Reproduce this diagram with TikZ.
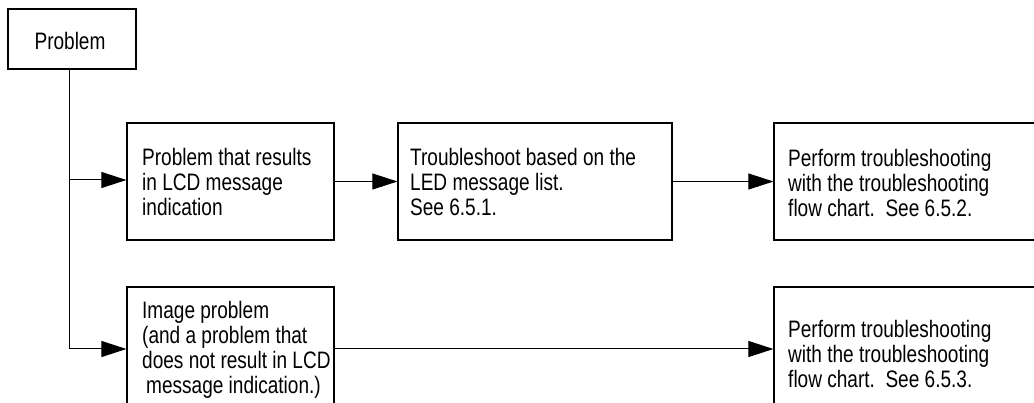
\documentclass[tikz,border=0pt]{standalone}
\usepackage{fontspec}
\setmainfont{Liberation Sans}[FakeStretch=0.8]
\usetikzlibrary{arrows.meta}
\begin{document}
\begin{tikzpicture}[x=1pt,y=-1pt,
  box/.style={draw,line width=1.2pt,rectangle,inner sep=0pt},
  txt/.style={inner sep=0pt,anchor=west,align=left,
    font=\fontsize{23.8}{25}\selectfont},
  arr/.style={line width=1pt,-{Triangle[length=25pt,width=16pt]}},
  conn/.style={line width=1pt}]
\useasboundingbox (0,0) rectangle (1034,403);
\clip (0,0) rectangle (1034,403);
% boxes
\node[box,minimum width=128pt,minimum height=60pt] (prob) at (72,39) {};
\node[box,minimum width=207pt,minimum height=117pt] (b1) at (230.5,181.5) {};
\node[box,minimum width=274pt,minimum height=117pt] (b2) at (535,181.5) {};
\node[box,minimum width=300pt,minimum height=117pt] (b3) at (924,181.5) {};
\node[box,minimum width=207pt,minimum height=124pt] (b4) at (230.5,349) {};
\node[box,minimum width=300pt,minimum height=134pt] (b5) at (924,354) {};
% texts
\node[txt,anchor=center] (tp) at (70,41) {Problem};
\node[txt] (t1) at (142,182) {Problem that results\\in LCD message\\indication};
\node[txt] (t2) at (410,182) {Troubleshoot based on the\\LED message list.\\See 6.5.1.};
\node[txt] (t3) at (788,183) {Perform troubleshooting\\with the troubleshooting\\flow chart.\ \ See 6.5.2.};
\node[txt] (t4) at (142,349.5) {Image problem\\(and a problem that\\does not result in LCD\\\hspace*{4pt}message indication.)};
\node[txt] (t5) at (788,354) {Perform troubleshooting\\with the troubleshooting\\flow chart.\ \ See 6.5.3.};
% connectors
\coordinate (j1) at (69,180);
\coordinate (j2) at (69,349);
\draw[conn] (prob.south -| j1) -- (j2);
\draw[arr] (j1) -- (j1 -| b1.west);
\draw[arr] (j2) -- (j2 -| b4.west);
\draw[arr] (b1.east) -- (b2.west);
\draw[arr] (b2.east) -- (b3.west);
\draw[arr] (j2 -| b4.east) -- (j2 -| b5.west);
\end{tikzpicture}
\end{document}
